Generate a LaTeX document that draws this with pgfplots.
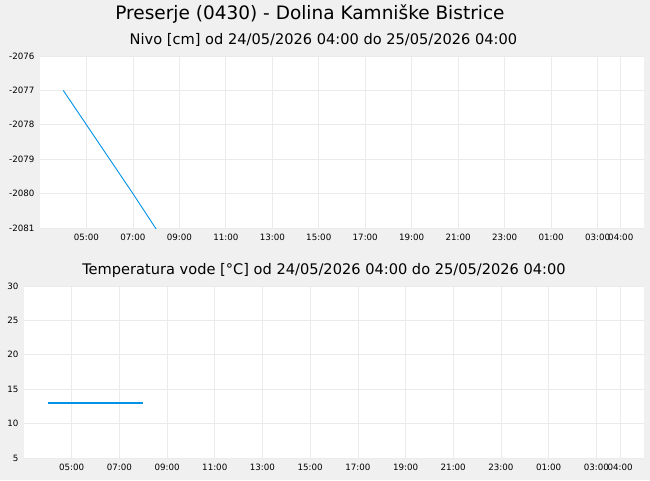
\documentclass[border=0pt]{standalone}
\usepackage{pgfplots}
\pgfplotsset{compat=1.18}
\usepackage{fontspec}
\setmainfont{DejaVu Sans}
\definecolor{bg}{HTML}{F0F0F0}
\definecolor{gridc}{HTML}{EBEBEB}
\definecolor{lineblue}{HTML}{0092E6}
\pgfplotsset{
  panel/.style={
    scale only axis, width=#1, height=172pt,
    axis background/.style={fill=white},
    axis line style={draw=none},
    major tick length=0pt,
    grid=major, major grid style={gridc, line width=0.7pt},
    xmin=3, xmax=29,
    xtick={5,7,9,11,13,15,17,19,21,23,25,27,28},
    xticklabels={05:00,07:00,09:00,11:00,13:00,15:00,17:00,19:00,21:00,23:00,01:00,03:00,04:00},
    tick label style={font=\fontsize{8.7}{10}\selectfont},
    /pgf/number format/assume math mode=true,
    xticklabel style={yshift=-3pt},
    yticklabel style={xshift=-2pt},
    clip=true,
  }
}
\begin{document}
\begin{tikzpicture}
\fill[bg] (0pt,0pt) rectangle (650pt,480pt);
\node[font=\fontsize{18.5}{20}\selectfont] at (310pt,466pt) {Preserje (0430) - Dolina Kamniške Bistrice};
\node[font=\fontsize{14.6}{16}\selectfont] at (323.5pt,440pt) {Nivo [cm] od 24/05/2026 04:00 do 25/05/2026 04:00};
\node[font=\fontsize{14.6}{16}\selectfont] at (324pt,210pt) {Temperatura vode [°C] od 24/05/2026 04:00 do 25/05/2026 04:00};

\begin{axis}[panel=604pt, at={(40pt,424pt)}, anchor=north west,
  ymin=-2081, ymax=-2076,
  ytick={-2081,-2080,-2079,-2078,-2077,-2076},
  yticklabels={-2081,-2080,-2079,-2078,-2077,-2076}]
\addplot[color=lineblue, line width=0.9pt] coordinates {
(4.0,-2077.00) (5.0,-2078.00) (6.0,-2079.00) (7.0,-2080.00) (8.0,-2081.03)
};
\end{axis}

\begin{axis}[panel=620pt, at={(24pt,194pt)}, anchor=north west,
  ymin=5, ymax=30,
  ytick={5,10,15,20,25,30}]
\addplot[color=lineblue, line width=1.8pt] coordinates {
(4.0,13.0) (5.0,13.0) (6.0,13.0) (7.0,13.0) (8.0,13.0)
};
\end{axis}
\end{tikzpicture}
\end{document}
